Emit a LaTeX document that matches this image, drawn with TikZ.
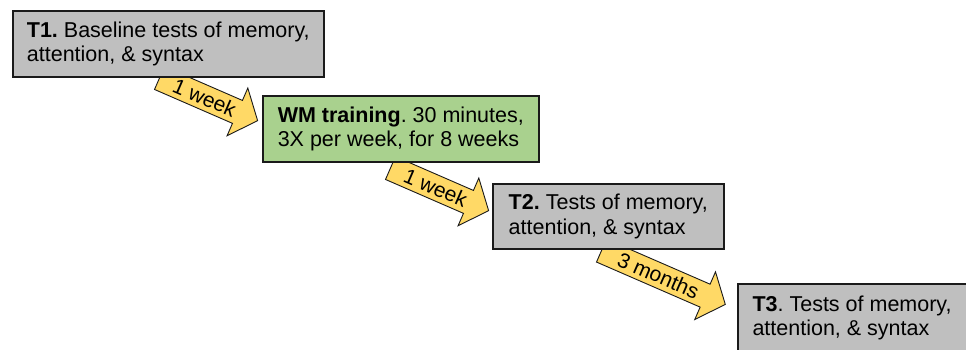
\documentclass[tikz,border=0pt]{standalone}
\usepackage{fontspec}
\setmainfont{Liberation Sans}
\frenchspacing
\usetikzlibrary{calc}
\pgfdeclarelayer{background}
\pgfsetlayers{background,main}
\definecolor{boxgray}{HTML}{BFBFBF}
\definecolor{boxgreen}{HTML}{A9D18E}
\definecolor{arrowyellow}{HTML}{FFD966}
\definecolor{edgedark}{HTML}{1A1A1A}
\newcommand\blockarrow[5]{%
  \begin{scope}[shift={(#2)}, rotate=-#3]
    \draw[yarrow] (0,12.5) -- ({#4-22},12.5) -- ({#4-22},26) -- (#4,0) -- ({#4-22},-26) -- ({#4-22},-12.5) -- (0,-12.5) -- cycle;
    \node[arrowtext, rotate=-#3] (#1) at ({#4*0.46},0) {#5};
  \end{scope}}
\tikzset{
  stagebox/.style={draw=edgedark, line width=1.6pt, anchor=north west, align=left,
    inner sep=0pt, font=\fontsize{21.5}{24.6}\selectfont},
  yarrow/.style={draw=edgedark, line width=0.9pt, fill=arrowyellow, line join=miter},
  arrowtext/.style={inner sep=0pt, font=\fontsize{21}{23}\selectfont}
}
\begin{document}
\begin{tikzpicture}[x=1pt, y=-1pt]
\useasboundingbox (0,0) rectangle (966,349);
\clip (0,0) rectangle (966,349);
\node[stagebox, fill=boxgray, minimum width=311pt, minimum height=66pt] (t1) at (12,10)
  {\textbf{T1.} Baseline tests of memory,\\attention, \& syntax};
\node[stagebox, fill=boxgreen, minimum width=276pt, minimum height=66pt] (wm) at (262,95)
  {\textbf{WM training}. 30 minutes,\\3X per week, for 8 weeks};
\node[stagebox, fill=boxgray, minimum width=231pt, minimum height=65pt] (t2) at (492,183)
  {\textbf{T2.} Tests of memory,\\attention, \& syntax};
\node[stagebox, fill=boxgray, minimum width=228.5pt, minimum height=68pt] (t3) at (737,283)
  {\textbf{T3}. Tests of memory,\\attention, \& syntax};
\begin{pgfonlayer}{background}
  \fill[white] (0,0) rectangle (966,349);
  \blockarrow{a1}{159.5,78}{23.5}{107}{1 week}
  \blockarrow{a2}{390.5,168}{23.5}{107}{1 week}
  \blockarrow{a3}{601.5,250.6}{23.5}{135}{3 months}
\end{pgfonlayer}
\end{tikzpicture}
\end{document}
